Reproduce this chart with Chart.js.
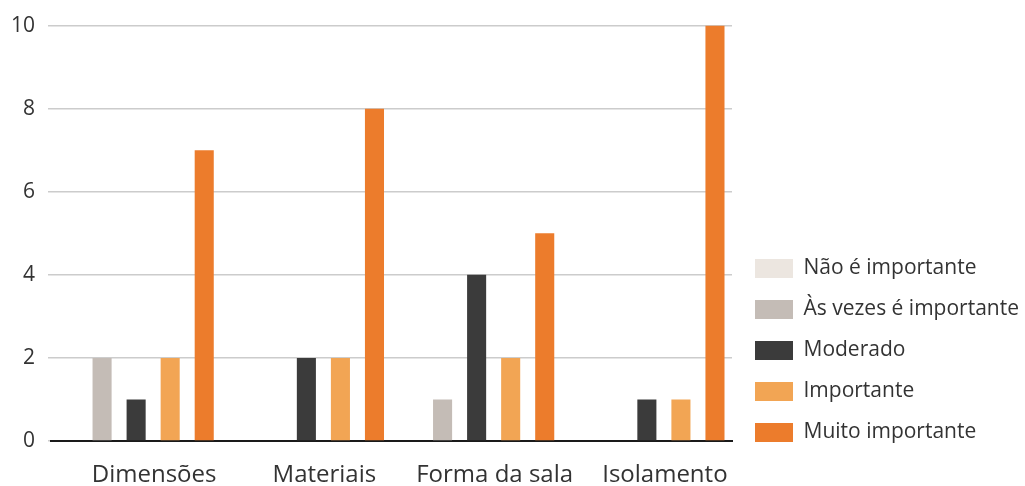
<!DOCTYPE html>
<html>
<head>
<meta charset="utf-8">
<script src="https://cdn.jsdelivr.net/npm/chart.js@4.4.1/dist/chart.umd.min.js"></script>
<style>
  html, body { margin: 0; padding: 0; background: #ffffff; }
  #wrap { width: 1025px; height: 486px; }
</style>
</head>
<body>
<div id="wrap"><canvas id="chart" width="1025" height="486"></canvas></div>
<script>
// Categories (aspects of the room) and answers per importance level
const categories = ['Dimensões', 'Materiais', 'Forma da sala', 'Isolamento'];
const naoImportante = [0, 0, 0, 0];
const asVezesImportante = [2, 0, 1, 0];
const moderado = [1, 2, 4, 1];
const importante = [2, 2, 2, 1];
const muitoImportante = [7, 8, 5, 10];
const yTicks = [0, 2, 4, 6, 8, 10];

const seriesNames = ['Não é importante', 'Às vezes é importante', 'Moderado', 'Importante', 'Muito importante'];
const seriesData = [naoImportante, asVezesImportante, moderado, importante, muitoImportante];
const seriesColors = ['#ece6e0', '#c4bcb6', '#3b3b3b', '#f2a554', '#ec7c2c'];

const FONT = '"Open Sans", "DejaVu Sans", sans-serif';
const TEXT = '#333333';

// Legend column: fixed width on the right, items stacked towards the bottom
const legendPlacement = {
  id: 'legendPlacement',
  beforeLayout(chart) {
    const lg = chart.legend;
    if (lg && !lg._fixedFit) {
      const fit = lg.fit.bind(lg);
      lg.fit = function () { fit(); this.width = 293; };
      lg._fixedFit = true;
    }
  },
  afterLayout(chart) {
    const lg = chart.legend;
    if (lg) {
      lg.left = 735;
      lg.bottom = 463;
    }
  }
};

new Chart(document.getElementById('chart'), {
  type: 'bar',
  data: {
    labels: categories,
    datasets: seriesNames.map((name, i) => ({
      label: name,
      data: seriesData[i],
      backgroundColor: seriesColors[i],
      borderWidth: 0,
      barPercentage: 0.56,
      categoryPercentage: 1.0
    }))
  },
  options: {
    responsive: false,
    animation: false,
    layout: { padding: { top: 24, bottom: 0, left: 0, right: 0 } },
    plugins: {
      tooltip: { enabled: false },
      legend: {
        position: 'right',
        align: 'end',
        labels: {
          boxWidth: 38,
          boxHeight: 19,
          padding: 20,
          color: TEXT,
          font: { family: FONT, size: 21 }
        }
      }
    },
    scales: {
      x: {
        grid: { display: false, drawTicks: false },
        border: { display: true, color: '#1a1a1a', width: 2 },
        ticks: {
          color: TEXT,
          padding: 20,
          labelOffset: 18,
          font: { family: FONT, size: 24 }
        },
        afterFit(scale) { scale.height = 45; }
      },
      y: {
        min: 0,
        max: 10,
        afterBuildTicks(scale) { scale.ticks = yTicks.map(v => ({ value: v })); },
        grid: {
          color: '#cccccc',
          lineWidth: 1.5,
          drawTicks: true,
          tickLength: 3
        },
        border: { display: false },
        ticks: {
          color: TEXT,
          padding: 13,
          font: { family: FONT, size: 21 }
        },
        afterFit(scale) { scale.width = 51; }
      }
    }
  },
  plugins: [legendPlacement]
});
</script>
</body>
</html>
